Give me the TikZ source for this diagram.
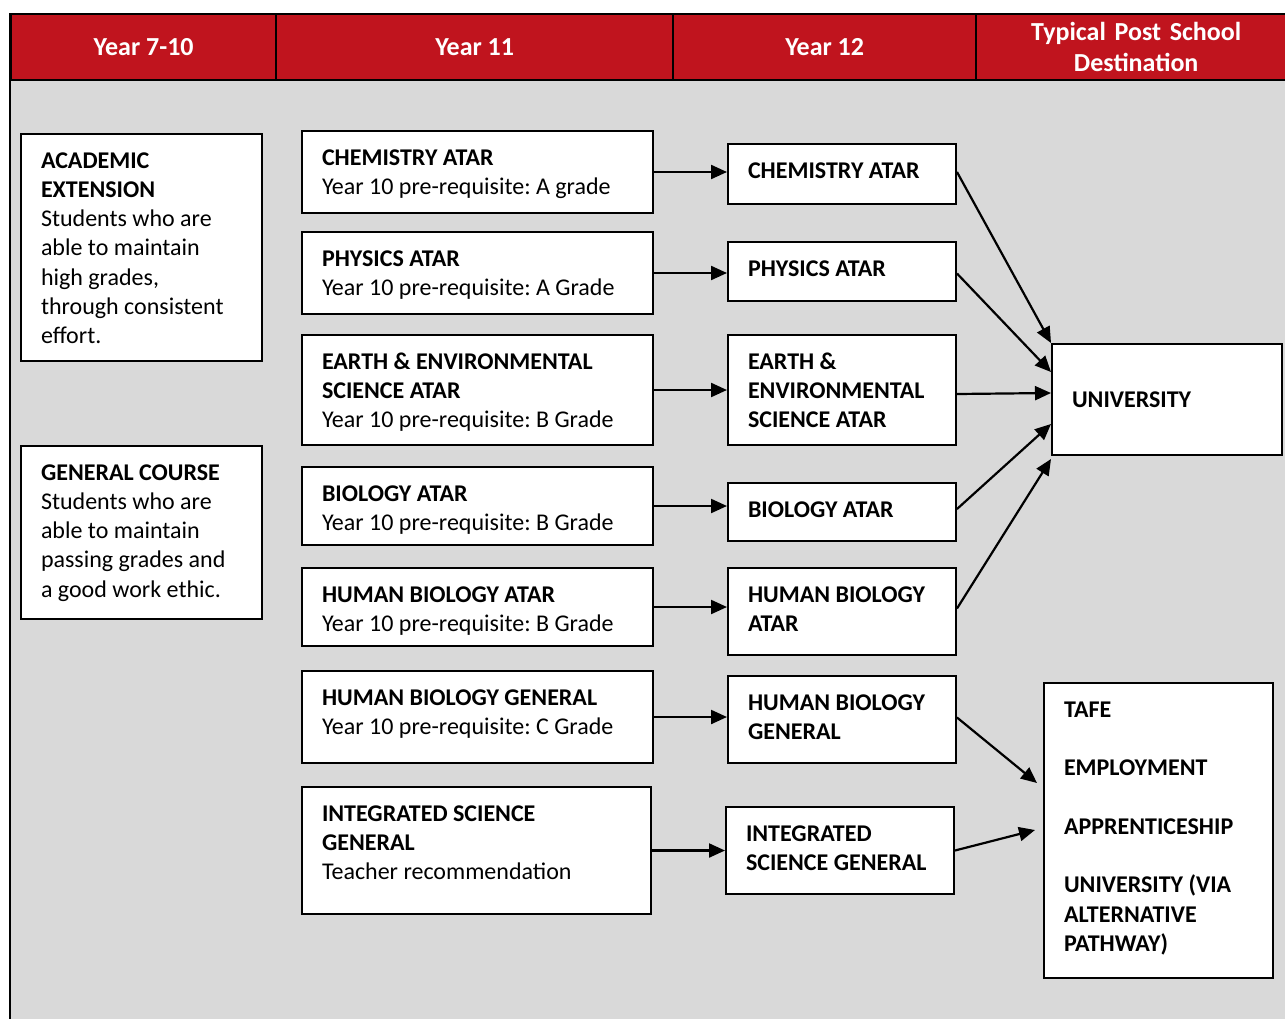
\documentclass[tikz,border=0pt]{standalone}
\usepackage{fontspec}
\setmainfont{Carlito}
\usetikzlibrary{arrows.meta}
\definecolor{hdrred}{RGB}{192,20,30}
\definecolor{bggray}{RGB}{217,217,217}
\newcommand\bx[6]{%
  \pgfmathsetlengthmacro\tw{#4-40}%
  \node[box,minimum width=#4pt,minimum height=#5pt] (#1) at (#2,#3)
    {\parbox[c][#5pt][t]{\tw}{\raggedright\rule{0pt}{34pt}#6}};}
\begin{document}
\frenchspacing
\begin{tikzpicture}[x=1pt,y=-1pt,
  box/.style={draw=black,line width=2pt,fill=white,anchor=north west,
    inner xsep=20pt,inner ysep=0pt,font=\fontsize{24}{29.3}\selectfont\frenchspacing},
  hdr/.style={draw=black,line width=2.4pt,fill=hdrred,anchor=north west,inner sep=0pt,
    text=white,align=center,font=\fontsize{26}{31}\selectfont\bfseries},
  arr/.style={line width=2.2pt,-{Triangle[length=16pt,width=14pt]}}]
\useasboundingbox (0,0) rectangle (1285,1018);
% background
\fill[bggray] (10,79) rectangle (1295,1025);
\draw[line width=2.4pt] (10,13) -- (10,1025);
% header
\node[hdr,minimum width=265pt,minimum height=66pt] (h1) at (10,13) {Year 7-10};
\node[hdr,minimum width=397pt,minimum height=66pt] (h2) at (275,13) {Year 11};
\node[hdr,minimum width=303pt,minimum height=66pt] (h3) at (672,13) {Year 12};
\node[hdr,minimum width=320pt,minimum height=66pt,text width=320pt] (h4) at (975,13) {Typical Post School\\Destination};
% left column
\bx{acad}{20}{133}{241}{227}{\textbf{ACADEMIC}\\\textbf{EXTENSION}\\Students who are\\able to maintain\\high grades,\\through consistent\\effort.}
\bx{gen}{20}{445}{241}{173}{\textbf{GENERAL COURSE}\\Students who are\\able to maintain\\passing grades and\\a good work ethic.}
% year 11
\bx{chemA}{301}{130}{351}{82}{\textbf{CHEMISTRY ATAR}\\Year 10 pre-requisite: A grade}
\bx{physA}{301}{231}{351}{82}{\textbf{PHYSICS ATAR}\\Year 10 pre-requisite: A Grade}
\bx{earthA}{301}{334}{351}{110}{\textbf{EARTH \& ENVIRONMENTAL}\\\textbf{SCIENCE ATAR}\\Year 10 pre-requisite: B Grade}
\bx{bioA}{301}{466}{351}{78}{\textbf{BIOLOGY ATAR}\\Year 10 pre-requisite: B Grade}
\bx{hbA}{301}{567}{351}{78}{\textbf{HUMAN BIOLOGY ATAR}\\Year 10 pre-requisite: B Grade}
\bx{hbgA}{301}{670}{351}{92}{\textbf{HUMAN BIOLOGY GENERAL}\\Year 10 pre-requisite: C Grade}
\bx{isA}{301}{786}{349}{127}{\textbf{INTEGRATED SCIENCE}\\\textbf{GENERAL}\\Teacher recommendation}
% year 12
\bx{chemB}{727}{143}{228}{60}{\textbf{CHEMISTRY ATAR}}
\bx{physB}{727}{241}{228}{59}{\textbf{PHYSICS ATAR}}
\bx{earthB}{727}{334}{228}{110}{\textbf{EARTH \&}\\\textbf{ENVIRONMENTAL}\\\textbf{SCIENCE ATAR}}
\bx{bioB}{727}{482}{228}{58}{\textbf{BIOLOGY ATAR}}
\bx{hbB}{727}{567}{228}{87}{\textbf{HUMAN BIOLOGY}\\\textbf{ATAR}}
\bx{hbgB}{727}{675}{228}{87}{\textbf{HUMAN BIOLOGY}\\\textbf{GENERAL}}
\bx{isB}{725}{806}{228}{87}{\textbf{INTEGRATED}\\\textbf{SCIENCE GENERAL}}
% destinations
\bx{uni}{1051}{343}{230}{111}{\mbox{}\\\textbf{UNIVERSITY}}
\bx{tafe}{1043}{682}{229}{295}{\textbf{TAFE}\\[29.3pt]\textbf{EMPLOYMENT}\\[29.3pt]\textbf{APPRENTICESHIP}\\[29.3pt]\textbf{UNIVERSITY (VIA}\\\textbf{ALTERNATIVE}\\\textbf{PATHWAY)}}
% arrows year 11 -> year 12
\foreach \a/\b in {chemA/chemB,physA/physB,earthA/earthB,bioA/bioB,hbA/hbB,hbgA/hbgB,isA/isB}
  \draw[arr] (\a.east) -- (\a.east -| \b.west);
% arrows to university
\draw[arr] ([yshift=2pt]chemB.east) -- (uni.north west);
\draw[arr] ([yshift=-2pt]physB.east) -- ([yshift=-29pt]uni.north west);
\draw[arr] ([yshift=-4pt]earthB.east) -- ([yshift=-50pt]uni.north west);
\draw[arr] ([yshift=3pt]bioB.east) -- ([yshift=-81pt]uni.north west);
\draw[arr] ([yshift=3pt]hbB.east) -- ([yshift=-3pt]uni.south west);
% arrows to tafe etc.
\draw[arr] ([yshift=2pt]hbgB.east) -- ([xshift=-6pt,yshift=-101pt]tafe.north west);
\draw[arr] (isB.east) -- ([xshift=-8pt,yshift=-148pt]tafe.north west);
\end{tikzpicture}
\end{document}
